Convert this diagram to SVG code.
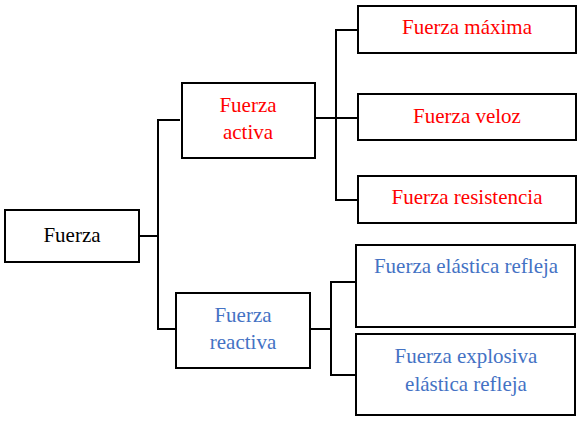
<svg xmlns="http://www.w3.org/2000/svg" width="581" height="425" viewBox="0 0 581 425">
<style>
.box{fill:#fff;stroke:#000;stroke-width:2}
.ln{fill:none;stroke:#000;stroke-width:2}
.t{font-family:'Liberation Serif','Times New Roman',Times,serif;font-size:21px;text-anchor:middle}
.k{fill:#000}
.r{fill:#ff0000}
.b{fill:#4472c4}
</style>
<rect width="581" height="425" fill="#fff"/>
<g id="connectors">
<polyline class="ln" points="137,236 158,236"/>
<polyline class="ln" points="180,120 158,120 158,329 177,329"/>
<polyline class="ln" points="315,118 358,118"/>
<polyline class="ln" points="358,30 336,30 336,200 358,200"/>
<polyline class="ln" points="310,329 331,329"/>
<polyline class="ln" points="358,282 331,282 331,375 356,375"/>
</g>
<g id="fuerza">
<rect class="box" x="5" y="210" width="134" height="52"/>
<text class="t k" font-family="Liberation Serif, serif" x="72" y="242">Fuerza</text>
</g>
<g id="activa">
<rect class="box" x="182" y="83" width="133" height="75"/>
<text class="t r" x="248" y="112">Fuerza</text>
<text class="t r" x="248" y="139">activa</text>
</g>
<g id="maxima">
<rect class="box" x="358" y="6" width="218" height="47"/>
<text class="t r" x="467" y="34">Fuerza máxima</text>
</g>
<g id="veloz">
<rect class="box" x="358" y="94" width="218" height="46"/>
<text class="t r" x="467" y="123">Fuerza veloz</text>
</g>
<g id="resistencia">
<rect class="box" x="358" y="176" width="218" height="47"/>
<text class="t r" x="467" y="204">Fuerza resistencia</text>
</g>
<g id="reactiva">
<rect class="box" x="176" y="293" width="134" height="75"/>
<text class="t b" x="243" y="322">Fuerza</text>
<text class="t b" x="243" y="349">reactiva</text>
</g>
<g id="elastica">
<rect class="box" x="356" y="245" width="219" height="82"/>
<text class="t b" x="466" y="273">Fuerza elástica refleja</text>
</g>
<g id="explosiva">
<rect class="box" x="356" y="334" width="219" height="81"/>
<text class="t b" x="466" y="363">Fuerza explosiva</text>
<text class="t b" x="466" y="391">elástica refleja</text>
</g>
</svg>
